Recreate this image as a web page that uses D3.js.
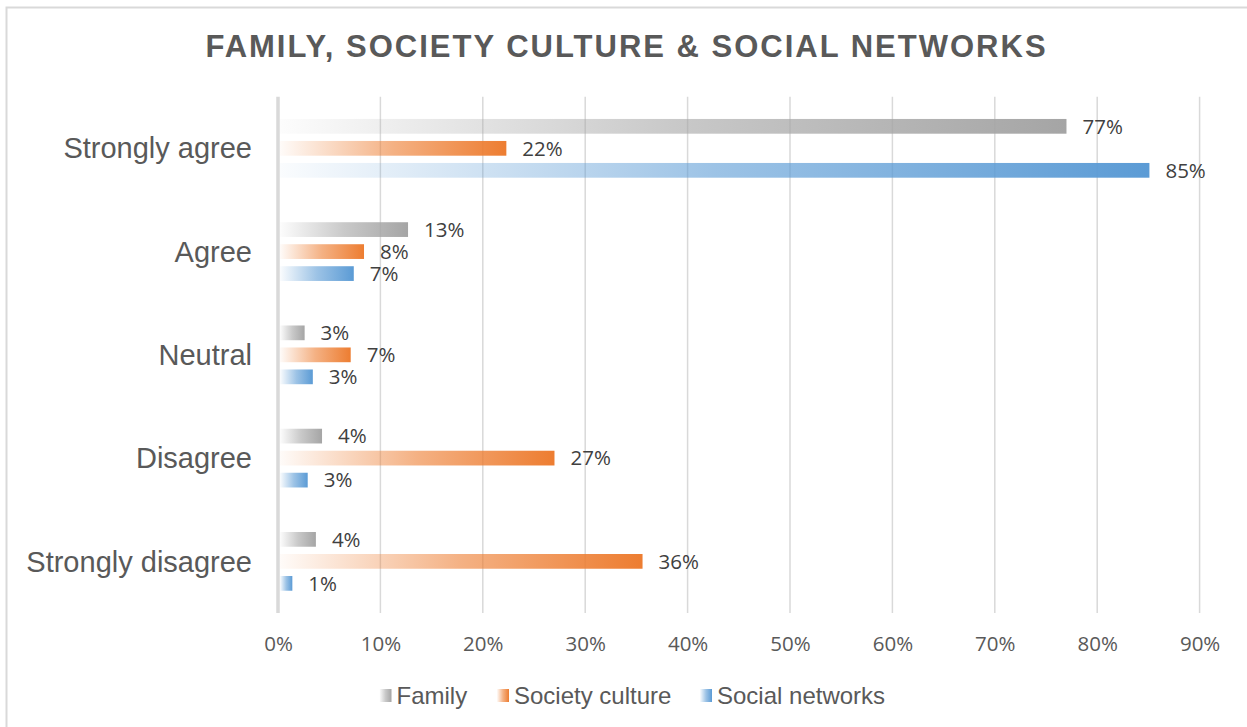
<!DOCTYPE html>
<html>
<head>
<meta charset="utf-8">
<script src="https://cdn.jsdelivr.net/npm/d3@7"></script>
<style>
  html, body { margin: 0; padding: 0; background: #fff; }
  svg { display: block; }
</style>
</head>
<body>
<svg id="chart" width="1247" height="727"></svg>
<script>
// categories top to bottom, series in drawing order within each group
var categories = ["Strongly agree", "Agree", "Neutral", "Disagree", "Strongly disagree"];
var seriesNames = ["Family", "Society culture", "Social networks"];
var family = [0.770, 0.127, 0.026, 0.043, 0.037];
var societyCulture = [0.223, 0.084, 0.071, 0.270, 0.356];
var socialNetworks = [0.851, 0.074, 0.034, 0.029, 0.014];
var tickValues = [0, 0.1, 0.2, 0.3, 0.4, 0.5, 0.6, 0.7, 0.8, 0.9];
var seriesColors = ["#a5a5a5", "#ed7d31", "#5b9bd5"];

var svg = d3.select("#chart"),
    values = [family, societyCulture, socialNetworks],
    pct = d3.format(".0%");

// outer chart border (right/bottom edges fall off the picture)
svg.append("rect")
    .attr("x", 6.5).attr("y", 7.5)
    .attr("width", 1260).attr("height", 740)
    .attr("fill", "#fff")
    .attr("stroke", "#d9d9d9").attr("stroke-width", 2);

// one left-to-right fade per series
var defs = svg.append("defs");
seriesColors.forEach(function (c, i) {
    var g = defs.append("linearGradient")
        .attr("id", "grad" + i)
        .attr("x1", 0).attr("x2", 1).attr("y1", 0).attr("y2", 0);
    g.append("stop").attr("offset", 0).attr("stop-color", c).attr("stop-opacity", 0.03);
    g.append("stop").attr("offset", 0.5).attr("stop-color", c).attr("stop-opacity", 0.6);
    g.append("stop").attr("offset", 1).attr("stop-color", c).attr("stop-opacity", 1);
});

var x = d3.scaleLinear().domain([0, 0.9]).range([278, 1199.6]);
var y = d3.scaleBand().domain(categories).range([96.7, 613]);
var inner = d3.scaleBand().domain(seriesNames).range([-33, 33]).paddingInner(0.33).paddingOuter(0.165);

// title
svg.append("text")
    .attr("x", 626.5).attr("y", 57)
    .attr("text-anchor", "middle")
    .attr("font-family", "Liberation Sans, Arial, sans-serif")
    .attr("font-weight", "bold")
    .attr("font-size", 31)
    .attr("letter-spacing", 2)
    .attr("fill", "#595959")
    .text("FAMILY, SOCIETY CULTURE & SOCIAL NETWORKS");

// vertical gridlines
svg.append("g").selectAll("line")
    .data(tickValues.slice(1))
    .enter().append("line")
    .attr("x1", function (d) { return x(d); })
    .attr("x2", function (d) { return x(d); })
    .attr("y1", 96.7).attr("y2", 613)
    .attr("stroke", "#d9d9d9").attr("stroke-width", 1.5);

// bottom axis labels
var xAxis = svg.append("g")
    .attr("transform", "translate(0,636)")
    .call(d3.axisBottom(x).tickValues(tickValues).tickFormat(pct).tickSize(0).tickPadding(0));
xAxis.select(".domain").remove();
xAxis.selectAll("text")
    .attr("dy", "0.36em")
    .attr("y", 8)
    .attr("font-family", "Open Sans, sans-serif")
    .attr("font-size", 20.5)
    .attr("fill", "#595959");

// category labels
svg.append("g").selectAll("text")
    .data(categories)
    .enter().append("text")
    .attr("x", 252)
    .attr("y", function (d) { return y(d) + y.bandwidth() / 2; })
    .attr("dy", "0.35em")
    .attr("text-anchor", "end")
    .attr("font-family", "Liberation Sans, Arial, sans-serif")
    .attr("font-size", 29)
    .attr("fill", "#595959")
    .text(function (d) { return d; });

// bars + data labels
var rows = [];
seriesNames.forEach(function (s, si) {
    categories.forEach(function (c, ci) {
        rows.push({ series: s, si: si, cat: c, v: values[si][ci] });
    });
});
var barY = function (d) { return y(d.cat) + y.bandwidth() / 2 + inner(d.series); };

svg.append("g").selectAll("rect")
    .data(rows)
    .enter().append("rect")
    .attr("x", x(0) + 2)
    .attr("y", barY)
    .attr("width", function (d) { return x(d.v) - x(0) - 2; })
    .attr("height", inner.bandwidth())
    .attr("fill", function (d) { return "url(#grad" + d.si + ")"; });

svg.append("g").selectAll("text")
    .data(rows)
    .enter().append("text")
    .attr("x", function (d) { return x(d.v) + 16; })
    .attr("y", function (d) { return barY(d) + inner.bandwidth() / 2; })
    .attr("dy", "0.36em")
    .attr("font-family", "Open Sans, sans-serif")
    .attr("font-size", 20.5)
    .attr("fill", "#404040")
    .text(function (d) { return pct(d.v); });

// y axis line at 0%
svg.append("line")
    .attr("x1", x(0)).attr("x2", x(0))
    .attr("y1", 96.7).attr("y2", 613)
    .attr("stroke", "#d9d9d9").attr("stroke-width", 3.5);

// legend
var legendX = [379.5, 497, 700];
var legend = svg.append("g").selectAll("g")
    .data(seriesNames)
    .enter().append("g")
    .attr("transform", function (d, i) { return "translate(" + legendX[i] + ",689)"; });
legend.append("rect")
    .attr("width", 12).attr("height", 13)
    .attr("fill", function (d, i) { return "url(#grad" + i + ")"; });
legend.append("text")
    .attr("x", 17).attr("y", 6.5)
    .attr("dy", "0.35em")
    .attr("font-family", "Liberation Sans, Arial, sans-serif")
    .attr("font-size", 24)
    .attr("fill", "#595959")
    .text(function (d) { return d; });
</script>
</body>
</html>
